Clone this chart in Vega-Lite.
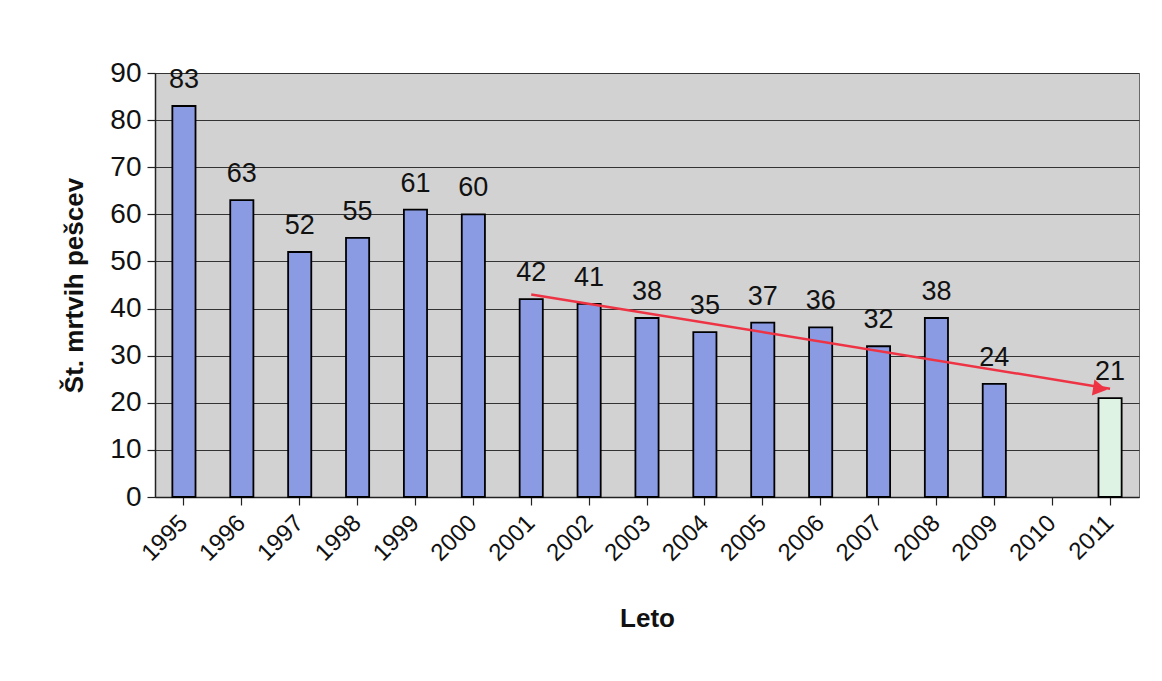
{
  "$schema": "https://vega.github.io/schema/vega-lite/v6.json",
  "width": 984,
  "height": 424,
  "autosize": {"type": "none"},
  "padding": {"left": 155, "top": 73, "right": 23, "bottom": 184},
  "background": "white",
  "config": {
    "font": "Liberation Sans",
    "view": {"fill": "#d2d2d2", "stroke": "#6a6a6a", "strokeWidth": 1}
  },
  "datasets": {
    "bars": [
      {"year": "1995", "value": 83, "kind": "a"},
      {"year": "1996", "value": 63, "kind": "a"},
      {"year": "1997", "value": 52, "kind": "a"},
      {"year": "1998", "value": 55, "kind": "a"},
      {"year": "1999", "value": 61, "kind": "a"},
      {"year": "2000", "value": 60, "kind": "a"},
      {"year": "2001", "value": 42, "kind": "a"},
      {"year": "2002", "value": 41, "kind": "a"},
      {"year": "2003", "value": 38, "kind": "a"},
      {"year": "2004", "value": 35, "kind": "a"},
      {"year": "2005", "value": 37, "kind": "a"},
      {"year": "2006", "value": 36, "kind": "a"},
      {"year": "2007", "value": 32, "kind": "a"},
      {"year": "2008", "value": 38, "kind": "a"},
      {"year": "2009", "value": 24, "kind": "a"},
      {"year": "2011", "value": 21, "kind": "b"}
    ],
    "arrow": [
      {"x": "2001", "y": 43, "x2": "2011", "y2": 23}
    ]
  },
  "layer": [
    {
      "data": {"name": "bars"},
      "mark": {"type": "bar", "stroke": "black", "strokeWidth": 1.8},
      "encoding": {
        "x": {
          "field": "year", "type": "nominal",
          "scale": {"domain": ["1995","1996","1997","1998","1999","2000","2001","2002","2003","2004","2005","2006","2007","2008","2009","2010","2011"], "paddingInner": 0.6, "paddingOuter": 0.3},
          "axis": {
            "title": "Leto", "titleFontSize": 26, "titleFontWeight": "bold", "titleColor": "#111", "titlePadding": 40,
            "labelAngle": -45, "labelFontSize": 24, "labelColor": "#111", "labelAlign": "right", "labelBaseline": "middle",
            "labelPadding": 14,
            "domainColor": "#222", "domainWidth": 1.5, "tickColor": "#222", "tickSize": 8, "tickWidth": 1.2,
            "ticks": true, "grid": false
          }
        },
        "y": {
          "field": "value", "type": "quantitative",
          "scale": {"domain": [0, 90]},
          "axis": {
            "title": "Št. mrtvih pešcev", "titleFontSize": 26, "titleFontWeight": "bold", "titleColor": "#111", "titlePadding": 22,
            "values": [0,10,20,30,40,50,60,70,80,90],
            "labelFontSize": 28, "labelColor": "#111", "labelPadding": 6,
            "domainColor": "#222", "domainWidth": 1.5, "tickColor": "#222", "tickSize": 8, "tickWidth": 1.2,
            "grid": true, "gridColor": "#333", "gridWidth": 1
          }
        },
        "color": {
          "field": "kind", "type": "nominal",
          "scale": {"domain": ["a", "b"], "range": ["#8b9be3", "#def3e4"]},
          "legend": null
        }
      }
    },
    {
      "data": {"name": "bars"},
      "mark": {"type": "text", "fontSize": 27, "baseline": "bottom", "dy": -12, "color": "#111"},
      "encoding": {
        "x": {"field": "year", "type": "nominal"},
        "y": {"field": "value", "type": "quantitative"},
        "text": {"field": "value", "type": "quantitative"}
      }
    },
    {
      "data": {"name": "arrow"},
      "mark": {"type": "rule", "color": "#ee3344", "strokeWidth": 2.5},
      "encoding": {
        "x": {"field": "x", "type": "nominal"},
        "y": {"field": "y", "type": "quantitative"},
        "x2": {"field": "x2"},
        "y2": {"field": "y2"}
      }
    },
    {
      "data": {"name": "arrow"},
      "mark": {"type": "point", "shape": "triangle-right", "filled": true, "color": "#ee3344", "size": 260, "angle": 9, "opacity": 1, "xOffset": -10},
      "encoding": {
        "x": {"field": "x2", "type": "nominal"},
        "y": {"field": "y2", "type": "quantitative"}
      }
    }
  ]
}
